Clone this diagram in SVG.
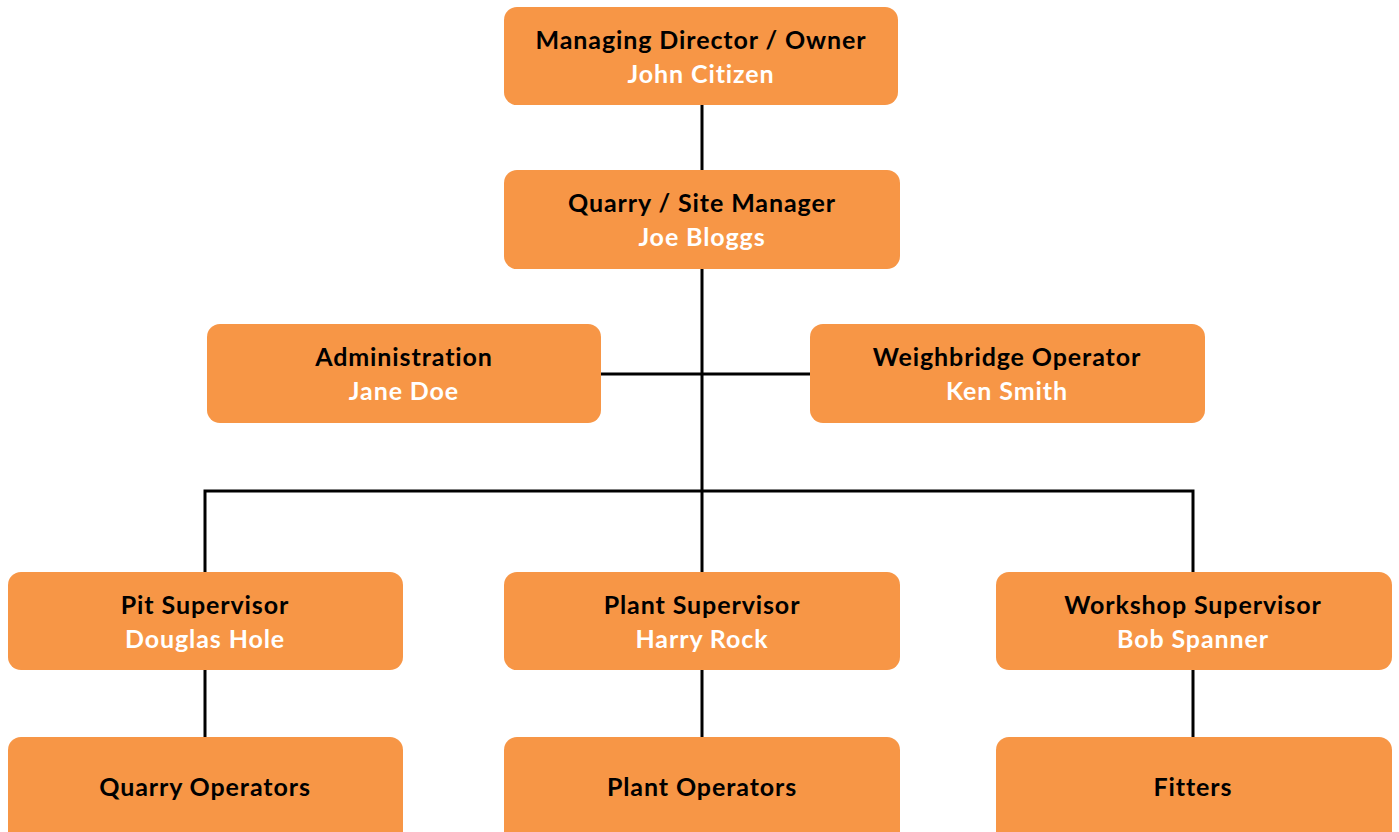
<svg xmlns="http://www.w3.org/2000/svg" width="1399" height="832" viewBox="0 0 1399 832">
<style>
.box{fill:#F79646}
.t{font-family:Lato,"Open Sans","Liberation Sans",sans-serif;font-weight:bold;font-size:25px;letter-spacing:0.9px;text-anchor:middle;fill:#000}
.n{fill:#fff}
.c{stroke:#000;stroke-width:3;fill:none}
</style>
<rect width="1399" height="832" fill="#fff"/>
<g id="connectors">
<path class="c" d="M702 105V170M702 269V572M601 374H810M205 572V491H1193V572M205 670V737M702 670V737M1193 670V737"/>
</g>
<g id="md"><rect class="box" x="504" y="7" width="394" height="98" rx="13"/><text class="t" x="701" y="49">Managing Director / Owner</text><text class="t n" x="701" y="83">John Citizen</text></g>
<g id="qm"><rect class="box" x="504" y="170" width="396" height="99" rx="13"/><text class="t" x="702" y="212">Quarry / Site Manager</text><text class="t n" x="702" y="246">Joe Bloggs</text></g>
<g id="admin"><rect class="box" x="207" y="324" width="394" height="99" rx="13"/><text class="t" x="404" y="366">Administration</text><text class="t n" x="404" y="400">Jane Doe</text></g>
<g id="weigh"><rect class="box" x="810" y="324" width="395" height="99" rx="13"/><text class="t" x="1007" y="366">Weighbridge Operator</text><text class="t n" x="1007" y="400">Ken Smith</text></g>
<g id="pit"><rect class="box" x="8" y="572" width="395" height="98" rx="13"/><text class="t" x="205" y="614">Pit Supervisor</text><text class="t n" x="205" y="648">Douglas Hole</text></g>
<g id="plant"><rect class="box" x="504" y="572" width="396" height="98" rx="13"/><text class="t" x="702" y="614">Plant Supervisor</text><text class="t n" x="702" y="648">Harry Rock</text></g>
<g id="workshop"><rect class="box" x="996" y="572" width="396" height="98" rx="13"/><text class="t" x="1193" y="614">Workshop Supervisor</text><text class="t n" x="1193" y="648">Bob Spanner</text></g>
<g id="qo"><rect class="box" x="8" y="737" width="395" height="110" rx="13"/><text class="t" x="205" y="796">Quarry Operators</text></g>
<g id="po"><rect class="box" x="504" y="737" width="396" height="110" rx="13"/><text class="t" x="702" y="796">Plant Operators</text></g>
<g id="fit"><rect class="box" x="996" y="737" width="396" height="110" rx="13"/><text class="t" x="1193" y="796">Fitters</text></g>
</svg>
